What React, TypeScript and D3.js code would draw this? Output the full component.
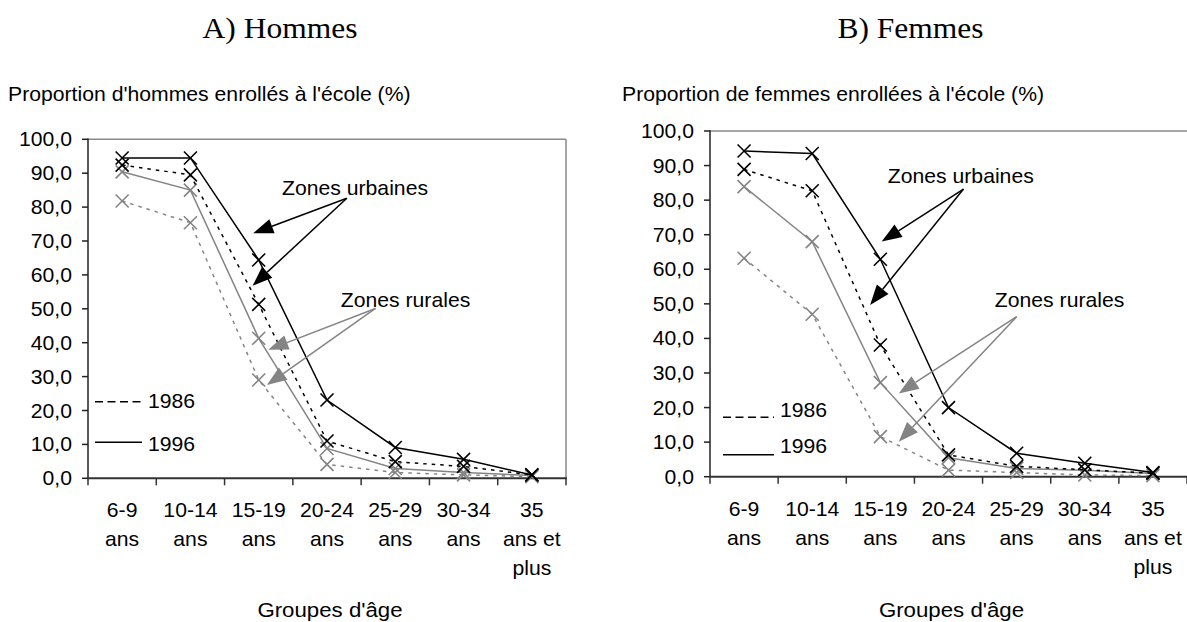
import React from "react";
import * as d3 from "d3";

const ageGroups: string[][] = [
  ["6-9", "ans"],
  ["10-14", "ans"],
  ["15-19", "ans"],
  ["20-24", "ans"],
  ["25-29", "ans"],
  ["30-34", "ans"],
  ["35", "ans et", "plus"],
];
const yTicks = [0, 10, 20, 30, 40, 50, 60, 70, 80, 90, 100];

// A) Hommes
const hUrb1996 = [94.5, 94.5, 64.4, 23.1, 9.1, 5.6, 1.0];
const hUrb1986 = [92.4, 89.5, 51.3, 11.0, 4.9, 3.5, 1.0];
const hRur1996 = [90.4, 85.0, 41.3, 8.8, 2.9, 1.7, 0.8];
const hRur1986 = [81.8, 75.4, 29.0, 4.1, 1.7, 1.0, 0.5];

// B) Femmes
const fUrb1996 = [94.2, 93.5, 62.9, 20.0, 6.8, 3.9, 1.2];
const fUrb1986 = [88.9, 82.7, 38.1, 6.3, 3.0, 2.0, 1.0];
const fRur1996 = [83.9, 68.0, 27.2, 5.5, 2.4, 1.9, 0.9];
const fRur1986 = [63.2, 47.0, 11.6, 1.9, 1.2, 0.5, 0.3];

// annotations in data units: [categoryIndex, value]
const hUrbText: [number, number] = [3.41, 83.6];
const hUrbFrom: [number, number] = [3.29, 82.6];
const hUrbTips: [number, number][] = [[1.92, 72.3], [1.91, 56.8]];
const hRurText: [number, number] = [4.15, 50.6];
const hRurFrom: [number, number] = [3.71, 50.1];
const hRurTips: [number, number][] = [[2.14, 37.9], [2.12, 27.5]];

const fUrbText: [number, number] = [3.18, 84.9];
const fUrbFrom: [number, number] = [3.22, 83.2];
const fUrbTips: [number, number][] = [[2.02, 68.0], [1.85, 49.7]];
const fRurText: [number, number] = [4.63, 49.2];
const fRurFrom: [number, number] = [4.0, 46.3];
const fRurTips: [number, number][] = [[2.27, 24.1], [2.27, 10.1]];

const SANS = "'Liberation Sans', Arial, sans-serif";
const SERIF = "'Liberation Serif', 'Times New Roman', serif";
const BLACK = "#000";
const GRAY = "#848484";
const SX = 1.06;

const fmt = (v: number) => d3.format(".1f")(v).replace(".", ",");

function T(props: {
  x: number; y: number; children: React.ReactNode; anchor?: string;
  size?: number; family?: string; sx?: number; fill?: string;
}) {
  const { x, y, children, anchor = "start", size = 20, family = SANS, sx = SX, fill = "#000" } = props;
  return (
    <text
      transform={`translate(${x},${y}) scale(${sx},1)`}
      textAnchor={anchor}
      fontFamily={family}
      fontSize={size}
      fill={fill}
    >
      {children}
    </text>
  );
}

type Series = { values: number[]; color: string; dashed: boolean };

type PanelProps = {
  title: string;
  yTitle: string;
  x0: number; x1: number; yTop: number; yBot: number;
  titleX: number; yTitleX: number;
  series: Series[];
  legendX: number; legendY: number[]; legendLen: number; legendTextDy: number[];
  urbText: [number, number]; urbFrom: [number, number]; urbTips: [number, number][];
  rurText: [number, number]; rurFrom: [number, number]; rurTips: [number, number][];
  rightBorder: boolean;
};

function Arrow({ from, to, color }: { from: [number, number]; to: [number, number]; color: string }) {
  const dx = to[0] - from[0];
  const dy = to[1] - from[1];
  const len = Math.sqrt(dx * dx + dy * dy);
  const ux = dx / len, uy = dy / len;
  const hl = 20, hw = 7.5;
  const bx = to[0] - ux * hl, by = to[1] - uy * hl;
  const p1 = [bx - uy * hw, by + ux * hw];
  const p2 = [bx + uy * hw, by - ux * hw];
  return (
    <g>
      <line x1={from[0]} y1={from[1]} x2={bx} y2={by} stroke={color} strokeWidth={1.5} />
      <polygon points={`${to[0]},${to[1]} ${p1[0]},${p1[1]} ${p2[0]},${p2[1]}`} fill={color} />
    </g>
  );
}

function Panel(p: PanelProps) {
  const n = ageGroups.length;
  const xb = d3.scaleLinear().domain([0, n]).range([p.x0, p.x1]);
  const xc = (i: number) => xb(i + 0.5);
  const y = d3.scaleLinear().domain([0, 100]).range([p.yBot, p.yTop]);
  const line = d3.line<number>().x((_, i) => xc(i)).y((v) => y(v));
  const pt = (a: [number, number]): [number, number] => [xc(a[0]), y(a[1])];
  const cx = (p.x0 + p.x1) / 2;
  const boundaries = d3.range(n + 1);

  return (
    <g>
      <T x={p.titleX} y={38} anchor="middle" size={30} family={SERIF} sx={1.05}>{p.title}</T>
      <T x={p.yTitleX} y={101}>{p.yTitle}</T>

      {/* frame */}
      <line x1={p.x0} y1={p.yTop} x2={p.x1} y2={p.yTop} stroke="#8a8a8a" strokeWidth={1.5} />
      {p.rightBorder && <line x1={p.x1} y1={p.yTop} x2={p.x1} y2={p.yBot} stroke="#8a8a8a" strokeWidth={1.5} />}
      <line x1={p.x0} y1={p.yTop - 0.75} x2={p.x0} y2={p.yBot} stroke="#222" strokeWidth={1.5} />
      <line x1={p.x0} y1={p.yBot} x2={p.x1 + 1} y2={p.yBot} stroke="#333" strokeWidth={2} />

      {/* y ticks */}
      {yTicks.map((t) => (
        <g key={t}>
          <line x1={p.x0 - 6} x2={p.x0} y1={y(t)} y2={y(t)} stroke="#222" strokeWidth={1.5} />
          <T x={p.x0 - 16} y={y(t) + 7} anchor="end">{fmt(t)}</T>
        </g>
      ))}

      {/* x ticks */}
      {boundaries.map((b) => (
        <line key={b} x1={xb(b)} x2={xb(b)} y1={p.yBot} y2={p.yBot + 7} stroke="#333" strokeWidth={1.5} />
      ))}
      {ageGroups.map((lab, i) => (
        <g key={i}>
          {lab.map((s, k) => (
            <T key={k} x={xc(i)} y={p.yBot + 39 + k * 29} anchor="middle">{s}</T>
          ))}
        </g>
      ))}
      <T x={cx + 3} y={617} anchor="middle" size={21}>Groupes d'âge</T>

      {/* series */}
      {p.series.map((s, si) => (
        <g key={si}>
          <path
            d={line(s.values) || ""}
            fill="none"
            stroke={s.color}
            strokeWidth={1.5}
            strokeDasharray={s.dashed ? "3.5,5" : undefined}
          />
          {s.values.map((v, i) => (
            <path
              key={i}
              transform={`translate(${xc(i)},${y(v)})`}
              d="M-6.5,-6.5L6.5,6.5M-6.5,6.5L6.5,-6.5"
              stroke={s.color}
              strokeWidth={1.6}
              fill="none"
            />
          ))}
        </g>
      ))}

      {/* legend */}
      <line x1={p.legendX} x2={p.legendX + p.legendLen} y1={p.legendY[0]} y2={p.legendY[0]}
        stroke="#000" strokeWidth={1.6} strokeDasharray="8,4.5" />
      <T x={p.legendX + p.legendLen + 6} y={p.legendY[0] + p.legendTextDy[0]}>1986</T>
      <line x1={p.legendX} x2={p.legendX + p.legendLen} y1={p.legendY[1]} y2={p.legendY[1]}
        stroke="#000" strokeWidth={1.6} />
      <T x={p.legendX + p.legendLen + 6} y={p.legendY[1] + p.legendTextDy[1]}>1996</T>

      {/* annotations */}
      <T x={pt(p.urbText)[0]} y={pt(p.urbText)[1]} anchor="middle">Zones urbaines</T>
      {p.urbTips.map((t, k) => (
        <Arrow key={k} from={pt(p.urbFrom)} to={pt(t)} color={BLACK} />
      ))}
      <T x={pt(p.rurText)[0]} y={pt(p.rurText)[1]} anchor="middle">Zones rurales</T>
      {p.rurTips.map((t, k) => (
        <Arrow key={k} from={pt(p.rurFrom)} to={pt(t)} color={GRAY} />
      ))}
    </g>
  );
}

export default function App() {
  const hSeries: Series[] = [
    { values: hRur1986, color: GRAY, dashed: true },
    { values: hRur1996, color: GRAY, dashed: false },
    { values: hUrb1986, color: BLACK, dashed: true },
    { values: hUrb1996, color: BLACK, dashed: false },
  ];
  const fSeries: Series[] = [
    { values: fRur1986, color: GRAY, dashed: true },
    { values: fRur1996, color: GRAY, dashed: false },
    { values: fUrb1986, color: BLACK, dashed: true },
    { values: fUrb1996, color: BLACK, dashed: false },
  ];
  return (
    <svg
      width={1187}
      height={622}
      style={{ position: "absolute", left: 0, top: 0, background: "#fff" }}
    >
      <rect width={1187} height={622} fill="#fff" />
      <Panel
        title="A) Hommes" yTitle="Proportion d'hommes enrollés à l'école (%)"
        x0={88} x1={566} yTop={139.3} yBot={478.3}
        titleX={280} yTitleX={8}
        series={hSeries}
        legendX={95} legendY={[401.7, 442.3]} legendLen={47} legendTextDy={[6, 8.5]}
        urbText={hUrbText} urbFrom={hUrbFrom} urbTips={hUrbTips}
        rurText={hRurText} rurFrom={hRurFrom} rurTips={hRurTips}
        rightBorder={true}
      />
      <Panel
        title="B) Femmes" yTitle="Proportion de femmes enrollées à l'école (%)"
        x0={710} x1={1187} yTop={131} yBot={476.7}
        titleX={910.5} yTitleX={622}
        series={fSeries}
        legendX={723} legendY={[417.3, 454.7]} legendLen={51} legendTextDy={[-0.5, -2]}
        urbText={fUrbText} urbFrom={fUrbFrom} urbTips={fUrbTips}
        rurText={fRurText} rurFrom={fRurFrom} rurTips={fRurTips}
        rightBorder={false}
      />
    </svg>
  );
}
